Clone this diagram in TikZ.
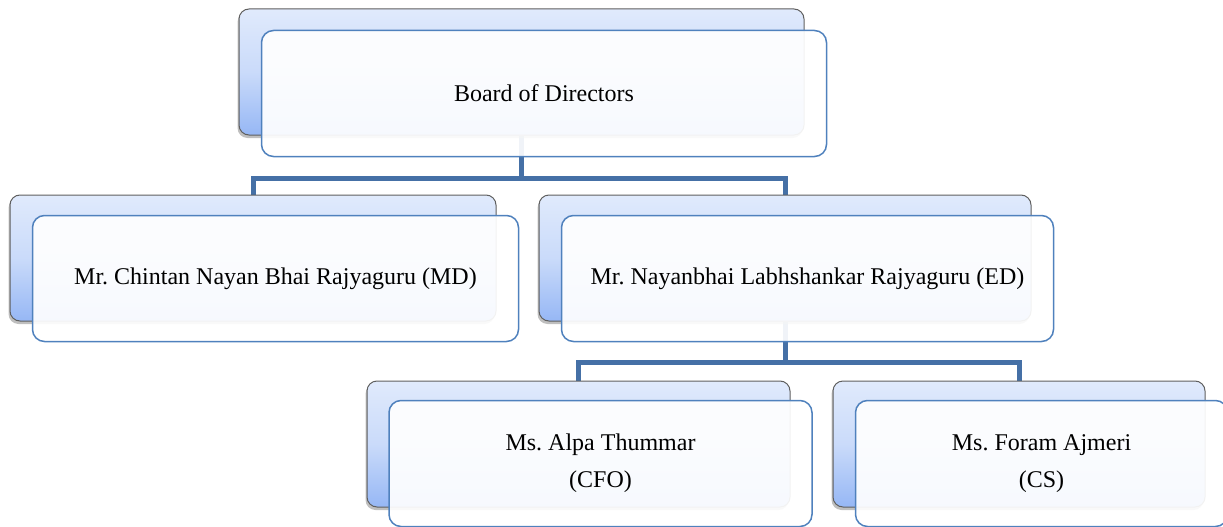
\documentclass[tikz,border=0pt]{standalone}
\usepackage{fontspec}
\setmainfont{Liberation Serif}
\usetikzlibrary{shadows,backgrounds}
\frenchspacing
\definecolor{conncol}{HTML}{4570A6}
\definecolor{frontborder}{HTML}{4F81BD}
\definecolor{backtop}{HTML}{E0EAFC}
\definecolor{backbot}{HTML}{96B7F5}
\definecolor{backborder}{HTML}{5F5F5F}
\tikzset{
 backbox/.style={draw=backborder, line width=1pt, rounded corners=10pt,
   top color=backtop, bottom color=backbot, middle color=backtop!70!backbot,
   minimum height=126pt, inner sep=0pt,
   drop shadow={shadow xshift=-1.5pt, shadow yshift=-3pt, opacity=0.5}},
 frontbox/.style={draw=frontborder, line width=1.5pt, rounded corners=12pt,
   fill=white, fill opacity=0.92, text opacity=1, minimum height=126pt,
   inner sep=0pt, align=center, font=\fontsize{24}{37}\selectfont},
 conn/.style={draw=conncol, line width=5pt}
}
\begin{document}
\begin{tikzpicture}[x=1pt,y=-1pt]
\useasboundingbox (0,0) rectangle (1223,527);
\clip (0,0) rectangle (1223,527);
% top
\node[backbox, minimum width=565pt] (bodB) at (521.5,72) {};
\node[frontbox, minimum width=565pt] (bodF) at (544,93.5) {Board of Directors};
% level 2
\node[backbox, minimum width=486pt] (mdB) at (253,258) {};
\node[frontbox, minimum width=486pt] (mdF) at (275.5,278.5) {Mr. Chintan Nayan Bhai Rajyaguru (MD)};
\node[backbox, minimum width=492pt] (edB) at (785,258) {};
\node[frontbox, minimum width=492pt] (edF) at (807.5,278.5) {Mr. Nayanbhai Labhshankar Rajyaguru (ED)};
% level 3
\node[backbox, minimum width=423pt] (cfoB) at (578.5,444) {};
\node[frontbox, minimum width=423pt] (cfoF) at (600.5,463.5) {Ms. Alpa Thummar\\(CFO)};
\node[backbox, minimum width=372pt] (csB) at (1019,444) {};
\node[frontbox, minimum width=372pt] (csF) at (1041.5,463.5) {Ms. Foram Ajmeri\\(CS)};
% connectors
\coordinate (j1) at (0,178);
\coordinate (j2) at (0,362);
\begin{scope}[on background layer]
\draw[conn] (bodB.south) -- (bodB.south |- j1) -| (mdB.north);
\draw[conn] (bodB.south |- j1) -| (edB.north);
\draw[conn] (edB.south) -- (edB.south |- j2) -| (cfoB.north);
\draw[conn] (edB.south |- j2) -| (csB.north);
\end{scope}
\end{tikzpicture}
\end{document}
